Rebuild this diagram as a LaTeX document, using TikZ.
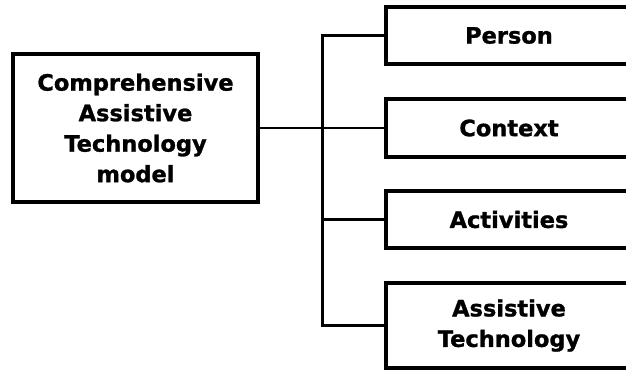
\documentclass[tikz,border=0pt]{standalone}
\usepackage{fontspec}
\setmainfont{DejaVu Sans}[BoldFeatures={FakeBold=1.2}]
\begin{document}
\begin{tikzpicture}[x=1pt,y=-1pt,
  box/.style={draw=black, line width=3.2pt, inner sep=0pt, align=center,
    font=\fontsize{22.5}{30.5}\selectfont\bfseries},
  link/.style={draw=black, line width=2.5pt}]
\useasboundingbox (0,0) rectangle (626,371);
\clip (0,0) rectangle (626,371);
% main model box
\node[box, minimum width=245pt, minimum height=148pt] (cat) at (135.5,128)
  {Comprehensive\\Assistive\\Technology\\model};
% component boxes (their right edges run past the page)
\node[box, minimum width=246pt, minimum height=57pt] (person) at (509,35.5) {Person};
\node[box, minimum width=246pt, minimum height=58pt] (context) at (509,128) {Context};
\node[box, minimum width=246pt, minimum height=57pt] (activ) at (509,219.5) {Activities};
\node[box, minimum width=246pt, minimum height=85pt] (at) at (509,325.5) {Assistive\\Technology};
% branching trunk
\coordinate (trunk) at (322.7,0);
\draw[link, line width=2pt] (cat.east) -- (context.west);
\draw[link] (person.west) -- (person.west -| trunk) -- (at.west -| trunk) -- (at.west);
\draw[link] (activ.west -| trunk) -- (activ.west);
\end{tikzpicture}
\end{document}
